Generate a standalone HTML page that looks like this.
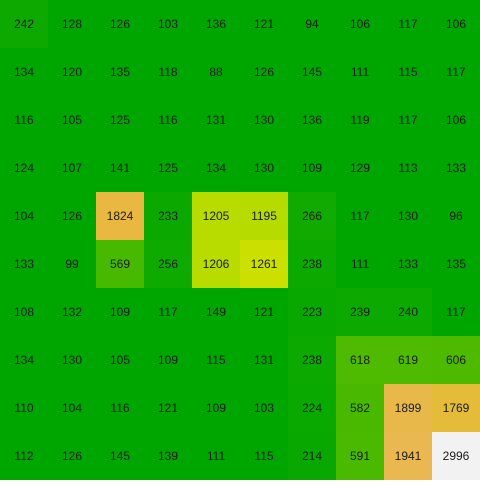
<!DOCTYPE html>
<html><head><meta charset="utf-8"><style>
html,body{margin:0;padding:0;background:#fff}
svg text{font-family:"Liberation Sans",sans-serif;font-size:12px;fill:#1a1a1a}
</style></head><body>
<svg id="chart" width="480" height="480" xmlns="http://www.w3.org/2000/svg"></svg>
<script>
const rows = [0,1,2,3,4,5,6,7,8,9];
const cols = [0,1,2,3,4,5,6,7,8,9];
const values = [
[242,128,126,103,136,121,94,106,117,106],
[134,120,135,118,88,126,145,111,115,117],
[116,105,125,116,131,130,136,119,117,106],
[124,107,141,125,134,130,109,129,113,133],
[104,126,1824,233,1205,1195,266,117,130,96],
[133,99,569,256,1206,1261,238,111,133,135],
[108,132,109,117,149,121,223,239,240,117],
[134,130,105,109,115,131,238,618,619,606],
[110,104,116,121,109,103,224,582,1899,1769],
[112,126,145,139,111,115,214,591,1941,2996]
];
const stopVals = [170,600,1205,1261,1824,1941,2996];
const stopCols = [[0,166,0],[76,186,0],[184,220,0],[204,224,0],[232,184,64],[234,184,80],[242,242,242]];
function color(v){
  if(v<=stopVals[0]) return 'rgb('+stopCols[0]+')';
  for(let i=1;i<stopVals.length;i++){
    if(v<=stopVals[i]){
      const t=(v-stopVals[i-1])/(stopVals[i]-stopVals[i-1]);
      const c=stopCols[i-1].map((a,k)=>Math.round(a+(stopCols[i][k]-a)*t));
      return 'rgb('+c+')';
    }
  }
  return 'rgb('+stopCols[stopCols.length-1]+')';
}
const svg=document.getElementById('chart');
const ns='http://www.w3.org/2000/svg';
const cw=480/cols.length, ch=480/rows.length;
const xs=c=>c*cw, ys=r=>r*ch;
rows.forEach(r=>cols.forEach(c=>{
  const v=values[r][c];
  const rect=document.createElementNS(ns,'rect');
  rect.setAttribute('x',xs(c));rect.setAttribute('y',ys(r));
  rect.setAttribute('width',cw);rect.setAttribute('height',ch);
  rect.setAttribute('fill',color(v));
  
  
  svg.appendChild(rect);
  const t=document.createElementNS(ns,'text');
  t.setAttribute('x',xs(c)+cw/2);t.setAttribute('y',ys(r)+ch/2+4);
  t.setAttribute('text-anchor','middle');
  t.textContent=v;
  
  
  svg.appendChild(t);
}));
</script>
</body></html>
